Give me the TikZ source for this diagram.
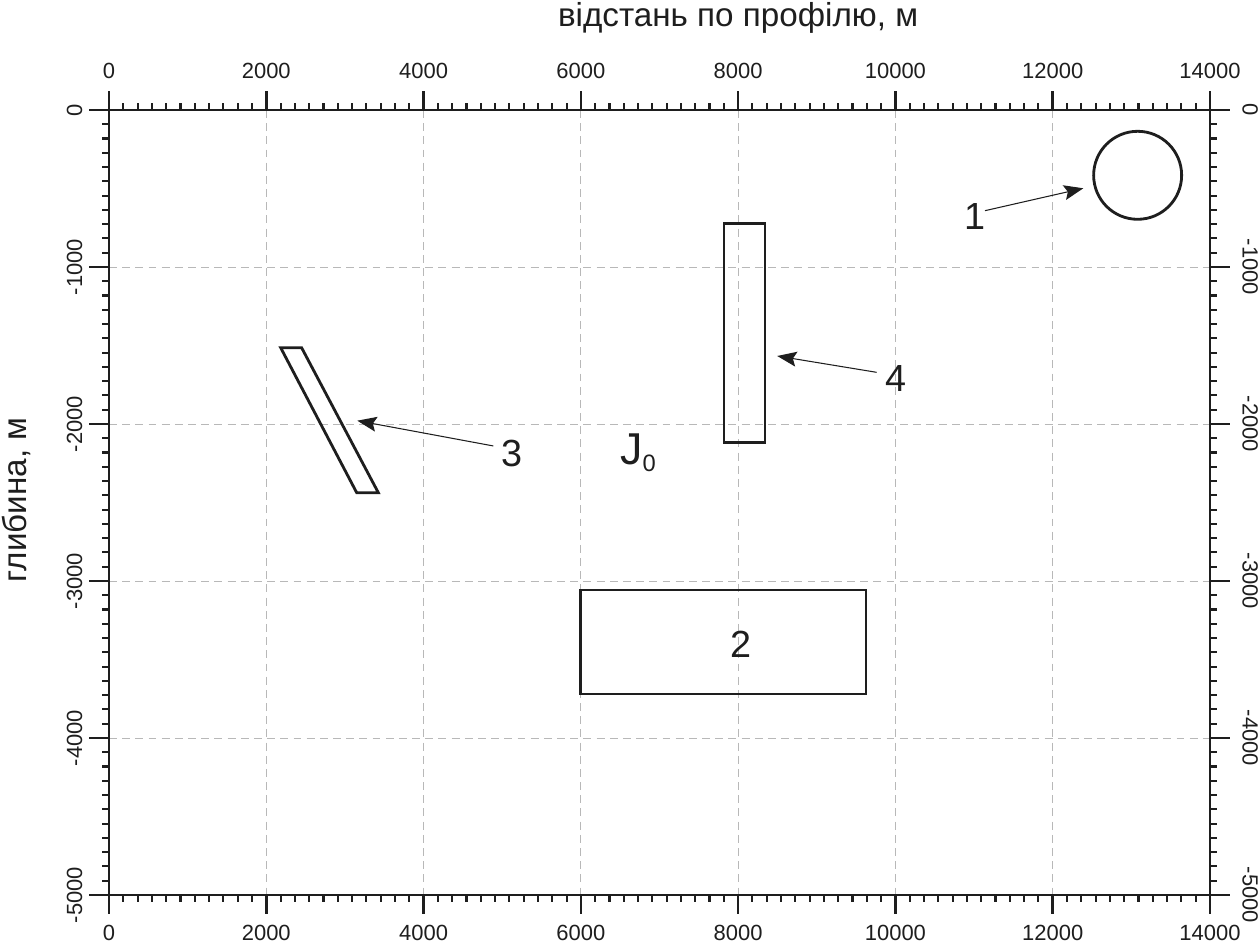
\documentclass[tikz,border=0pt]{standalone}
\usepackage{fontspec}
\setmainfont{Liberation Sans}
\usetikzlibrary{arrows.meta}
\definecolor{ink}{HTML}{1E1E1E}
\definecolor{gridc}{HTML}{B8B8B8}
\tikzset{
  axisln/.style={draw=ink, line width=1.5pt},
  minortick/.style={draw=ink, line width=1.2pt},
  gridln/.style={draw=gridc, line width=0.5pt, dash pattern=on 4.5pt off 3pt},
  body/.style={draw=ink, line width=1.6pt},
  ar/.style={-{Stealth[length=11pt, width=8.5pt, inset=2pt]}, draw=ink, line width=0.6pt},
  ticklbl/.style={font=\fontsize{12.5}{12.5}\selectfont, inner sep=0pt, text=ink},
  numlbl/.style={font=\fontsize{21.5}{21.5}\selectfont, inner sep=0pt, text=ink},
  ttl/.style={font=\fontsize{18.9}{18.9}\selectfont, inner sep=0pt, text=ink}
}

\begin{document}
\begin{tikzpicture}[x=1.5729cm, y=3.14cm]
  \useasboundingbox (-1.386,-5.318) rectangle (14.636,0.7006);
  % grid
  \foreach \gx in {2,4,...,12}
    \draw[gridln] (\gx,0) -- (\gx,-5);
  \foreach \gy in {1,...,4}
    \draw[gridln] (0,-\gy) -- (14,-\gy);
  % frame
  \draw[axisln] (0,0) rectangle (14,-5);
  % distance axis, top and bottom
  \foreach \i in {0,...,7} {
    \pgfmathtruncatemacro{\xv}{2000*\i}
    \draw[axisln] (2*\i,0) -- ++(0,0.38cm);
    \draw[axisln] (2*\i,-5) -- ++(0,-0.38cm);
    \node[ticklbl] (xtop\i) at (2*\i,0.2484) {\xv};
    \node[ticklbl] (xbot\i) at (2*\i,-5.245) {\xv};
  }
  \foreach \i in {0,...,6}
    \foreach \k in {1,...,10} {
      \draw[minortick] ({2*\i+2*\k/11},0) -- ++(0,0.14cm);
      \draw[minortick] ({2*\i+2*\k/11},-5) -- ++(0,-0.14cm);
    }
  % depth axis, left and right
  \foreach \j in {0,...,5} {
    \pgfmathtruncatemacro{\yv}{-1000*\j}
    \draw[axisln] (0,-\j) -- ++(-0.4cm,0);
    \draw[axisln] (14,-\j) -- ++(0.4cm,0);
    \node[ticklbl, rotate=90] (yleft\j) at (-0.4387,-\j) {\yv};
    \node[ticklbl, rotate=-90] (yright\j) at (14.51,-\j) {\yv};
  }
  \foreach \j in {0,...,4}
    \foreach \k in {1,...,10} {
      \draw[minortick] (0,{-\j-\k/11}) -- ++(-0.14cm,0);
      \draw[minortick] (14,{-\j-\k/11}) -- ++(0.14cm,0);
    }
  % axis titles
  \node[ttl, anchor=base] (xttl) at (8.0,0.5287) {відстань по профілю, м};
  \node[ttl, anchor=base, rotate=90] (yttl) at (-1.0427,-2.484) {глибина, м};
  % bodies
  \draw[body] (13.08,-0.416) circle[radius=0.88cm];
  \draw[body] (6.0,-3.057) rectangle (9.626,-3.72);
  \draw[body] (2.183,-1.514) -- (2.449,-1.514) -- (3.425,-2.438) -- (3.150,-2.438) -- cycle;
  \draw[body] (7.821,-0.722) rectangle (8.342,-2.117);
  % labels and pointers
  \node[numlbl] (n1) at (11.012,-0.6815) {1};
  \node[numlbl] (n2) at (8.034,-3.404) {2};
  \node[numlbl] (n3) at (5.125,-2.187) {3};
  \node[numlbl] (n4) at (10.008,-1.713) {4};
  \coordinate (t1) at (11.139,-0.6414);
  \coordinate (h1) at (12.389,-0.4987);
  \coordinate (t3) at (4.887,-2.140);
  \coordinate (h3) at (3.157,-1.979);
  \coordinate (t4) at (9.761,-1.671);
  \coordinate (h4) at (8.497,-1.567);
  \draw[ar] (t1) -- (h1);
  \draw[ar] (t3) -- (h3);
  \draw[ar] (t4) -- (h4);
  \node[anchor=base west, inner sep=0pt, text=ink] (jzero) at (6.498,-2.261)
    {\fontsize{25.4}{25.4}\selectfont J\raisebox{-3.8pt}{\fontsize{13.5}{13.5}\selectfont 0}};
\end{tikzpicture}
\end{document}
